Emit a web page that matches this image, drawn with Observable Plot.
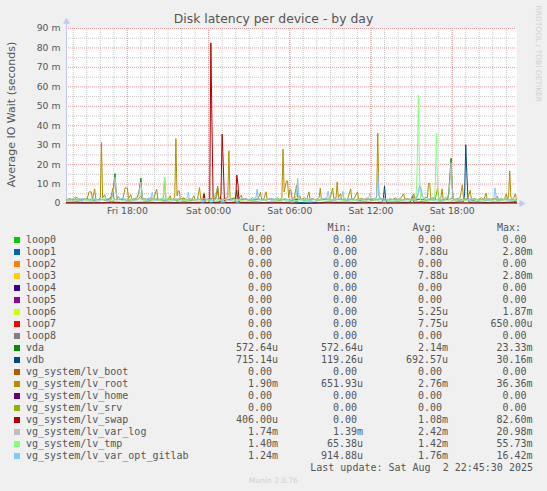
<!DOCTYPE html>
<html><head><meta charset="utf-8">
<script src="https://cdn.jsdelivr.net/npm/d3@7"></script>
<script src="https://cdn.jsdelivr.net/npm/@observablehq/plot@0.6"></script>
<style>
html,body{margin:0;padding:0;background:#f0f0f0;}
#root{position:relative;width:547px;height:491px;background:#f0f0f0;overflow:hidden;font-family:"DejaVu Sans",sans-serif;color:#555;}
#chart{position:absolute;left:0;top:0;}
.abs{position:absolute;white-space:pre;line-height:1;}
.mono{font-family:"DejaVu Sans Mono",monospace;font-size:10px;color:#555;}
</style></head><body><div id="root"><div id="chart"></div></div>
<script>
// ---- data: [5-minute step index from Fri 13:30, value in milliseconds] ----
const loop0 = [[0,0],[399,0]];
const loop1 = [[0,0],[203,0],[204,2.8],[205,0],[399,0]];
const loop2 = [[0,0],[399,0]];
const loop3 = [[0,0],[203,0],[204,2.8],[205,0],[399,0]];
const loop4 = [[0,0],[399,0]];
const loop5 = [[0,0],[399,0]];
const loop6 = [[0,0],[97,0],[98,1.87],[99,0],[399,0]];
const loop7 = [[0,0],[121,0],[122,0.65],[123,0],[399,0]];
const loop8 = [[0,0],[399,0]];
const vda = [[0,1.8],[6,2.2],[12,1.5],[18,2.4],[24,1.7],[30,2.2],[36,1.6],[41,4],[42,10],[43,15.4],[44,6],[45,2],[50,2.2],[56,1.6],[62,2.4],[64,5],[65,9],[66,13],[67,4],[68,2],[74,1.7],[80,2.3],[86,1.6],[92,2.2],[98,1.7],[104,2.4],[110,1.6],[116,2.2],[122,1.7],[128,2.3],[133,3],[134,8.8],[135,2.5],[140,1.7],[146,2.2],[150,3],[151,7],[152,2],[158,2.3],[164,1.6],[170,2.2],[176,1.7],[182,2.4],[188,1.6],[194,2.2],[200,1.7],[206,2.3],[212,1.6],[218,2.2],[224,1.7],[230,2.4],[236,1.6],[242,2.2],[248,1.7],[254,2.3],[260,1.6],[266,2.2],[272,1.7],[278,2.4],[284,1.6],[290,2.2],[296,1.7],[302,2.3],[308,1.6],[314,2.2],[320,1.7],[326,2.3],[332,1.6],[338,2.2],[339,6],[340,15],[341,23.3],[342,9],[343,2],[348,1.7],[354,2.3],[360,1.6],[366,2.2],[372,1.7],[378,2.3],[384,1.6],[390,2.2],[396,1.7],[399,0.57]];
const vdb = [[0,0.6],[8,0.8],[16,0.5],[24,0.7],[32,0.4],[40,0.8],[48,0.5],[56,0.7],[64,0.5],[72,0.8],[80,0.4],[88,0.7],[96,0.5],[104,0.8],[112,0.5],[120,0.7],[128,0.4],[136,0.8],[144,0.5],[152,0.7],[160,0.5],[168,0.8],[176,0.4],[184,0.7],[192,0.5],[200,0.8],[208,0.5],[216,0.7],[224,0.4],[232,0.8],[240,0.5],[248,0.7],[256,0.5],[264,0.8],[272,0.4],[280,0.7],[281,3],[282,9.1],[283,2],[284,0.6],[292,0.8],[300,0.5],[305,0.7],[306,2],[307,4],[308,0.6],[316,0.8],[324,0.5],[332,0.7],[340,0.4],[348,0.8],[352,1],[353,5],[354,30.16],[355,15],[356,2],[357,0.6],[364,0.8],[372,0.5],[380,0.7],[388,0.5],[396,0.8],[399,0.72]];
const lvBoot = [[0,0],[399,0]];
const lvRoot = [[0,2.0],[3,2.6],[6,1.6],[9,3.2],[12,1.8],[15,2.4],[18,1.7],[20,6.0],[22,6.0],[23,2.0],[25,7.5],[26,2.2],[28,1.8],[30,3],[31,31.4],[32,3],[34,4.5],[35,2],[37,2.5],[39,2],[41,7.9],[42,2.6],[44,1.8],[46,3.5],[48,2],[50,2.5],[52,8],[54,8],[55,2.5],[57,4.5],[58,2],[61,2.8],[63,1.8],[66,4],[67,2],[70,2.5],[72,1.7],[75,3],[77,2],[80,7.4],[81,2.4],[83,1.8],[86,3],[87,13.5],[88,3],[90,2],[92,4],[93,1.8],[96,3],[97,33.4],[98,4],[99,6.5],[100,6.5],[101,2],[104,3],[106,1.8],[109,2.5],[111,2],[113,4],[114,1.8],[116,2.2],[118,8.2],[119,2],[121,3],[122,5.5],[123,1.8],[126,2.4],[128,2],[131,3],[132,2],[134,8.6],[135,2.4],[137,3],[138,1.8],[140,2.5],[143,3],[144,27.1],[145,3],[147,2],[150,2.5],[152,1.8],[155,4.3],[156,2],[159,2.6],[162,1.8],[165,3],[167,2],[170,2.5],[172,5.8],[173,2],[175,2.4],[177,6],[178,2],[181,2.6],[184,1.8],[187,3],[189,2],[191,3],[192,28],[193,6],[195,11.7],[196,11.5],[197,3],[198,7],[199,7],[200,2.5],[202,3],[204,9.5],[205,3],[207,4],[208,2],[211,3],[213,2],[215,6],[216,2],[218,2.5],[221,1.8],[224,3],[225,7.8],[226,2],[229,2.5],[231,1.8],[234,3],[236,8],[237,2.5],[239,3],[240,11.1],[241,3],[243,5],[244,2],[247,2.5],[249,1.8],[252,7.5],[253,2],[255,2.5],[258,6],[259,2],[262,2.8],[264,1.8],[267,2.5],[270,2],[273,2.4],[275,3],[276,36.2],[277,4],[279,2],[282,3],[284,1.8],[287,2.4],[289,2],[292,3],[293,1.8],[296,2.5],[299,5],[300,2],[303,2.4],[305,1.8],[308,5],[309,2],[312,2.4],[315,1.8],[318,3],[320,3],[321,10.4],[322,10.4],[323,2.5],[325,3],[327,2],[329,8.2],[330,2.5],[332,3],[333,7.5],[334,2],[337,2.5],[339,1.8],[342,3],[344,2],[347,2.5],[349,3],[351,9.6],[352,3],[354,2],[356,3],[358,6.8],[359,2],[362,2.6],[365,1.8],[368,3],[370,2],[372,5.3],[373,2],[375,2.5],[377,1.8],[380,2.4],[382,3.8],[383,2],[386,2.5],[388,1.8],[390,5],[391,2],[392,3],[393,16.8],[394,3],[396,2],[398,5],[399,1.9]];
const lvHome = [[0,0],[399,0]];
const lvSrv = [[0,0],[399,0]];
const lvSwap = [[0,0.4],[20,0.3],[40,0.45],[60,0.3],[80,0.4],[100,0.3],[118,0.4],[121,1],[122,4.8],[123,0.5],[126,0.4],[127,2],[128,82.6],[129,40],[130,3],[131,0.4],[136,0.4],[137,5],[138,35.7],[139,20],[140,2],[141,0.4],[149,0.5],[150,2],[151,14.6],[152,10],[153,1],[154,0.4],[170,0.3],[190,0.4],[210,0],[230,0.4],[250,0.3],[270,0.4],[290,0.3],[310,0.4],[330,0.3],[350,0.4],[370,0.3],[390,0.4],[399,0.41]];
const lvVarLog = [[0,2.2],[6,1.8],[12,2.5],[18,1.9],[24,2.4],[30,1.8],[36,2.6],[40,2],[42,8],[43,13.5],[44,6],[45,2],[50,2.4],[56,1.8],[62,2.5],[64,4],[65,8],[66,11],[67,4],[68,2],[74,2.4],[80,1.8],[86,2.6],[92,1.9],[98,2.5],[104,1.8],[110,2.4],[116,1.9],[122,2.5],[128,1.8],[131,3],[132,5.5],[133,2.5],[138,1.9],[144,2.4],[150,1.8],[156,2.6],[162,1.9],[168,2.4],[174,1.8],[180,2.5],[186,1.9],[192,2.4],[198,1.8],[204,2.6],[210,1.9],[216,2.4],[222,1.8],[228,2.5],[234,1.9],[240,2.4],[246,1.8],[252,2.5],[258,1.9],[264,2.4],[268,3],[269,5.3],[270,2.5],[276,2],[282,2.4],[288,1.8],[294,2.5],[300,1.9],[306,2.4],[311,3],[313,7],[314,9],[315,4],[317,2],[322,2.4],[328,1.8],[334,2.5],[339,4],[340,12],[341,21],[342,8],[343,2.2],[348,2.4],[354,1.8],[360,2.5],[366,1.9],[372,2.4],[378,1.8],[384,2.5],[390,1.9],[396,2.4],[399,1.74]];
const lvTmp = [[0,1.4],[5,1.1],[10,1.7],[15,1.2],[20,1.6],[25,1.0],[30,1.5],[34,3.5],[35,1.2],[40,1.6],[45,1.1],[50,1.5],[55,1.2],[60,1.7],[65,1.0],[70,1.5],[75,1.2],[80,1.6],[85,1.3],[86,5],[87,13.5],[88,4],[89,1.2],[95,1.5],[100,1.1],[105,1.6],[110,1.2],[115,1.5],[120,1.0],[125,1.4],[130,1.2],[135,1.7],[140,1.1],[145,1.5],[150,1.2],[155,1.6],[160,1.1],[165,1.5],[170,1.2],[175,1.6],[180,1.0],[185,1.5],[190,1.2],[195,1.6],[200,1.1],[205,1.5],[210,1.2],[215,1.7],[220,1.0],[225,1.5],[230,1.2],[235,1.6],[240,1.1],[245,1.5],[250,1.2],[255,1.6],[260,1.1],[265,1.5],[270,1.2],[275,1.6],[280,1.0],[285,1.5],[290,1.2],[295,1.6],[300,1.1],[305,1.5],[309,1.3],[310,4],[311,20],[312,55.7],[313,15],[314,1.6],[318,1.2],[322,1.6],[326,1.4],[327,10],[328,36],[329,8],[330,1.3],[335,1.6],[340,1.1],[345,1.5],[350,1.2],[355,1.6],[360,1.1],[365,1.5],[370,1.2],[375,1.6],[380,1.1],[385,1.5],[390,1.2],[395,1.6],[399,1.4]];
const lvGitlab = [[0,2.2],[4,1.6],[8,3.5],[9,2],[13,1.5],[17,2.3],[21,1.6],[25,2.6],[29,1.7],[33,2.2],[37,1.5],[41,2.4],[45,1.8],[49,2.8],[53,1.6],[57,2.2],[61,1.7],[65,2.5],[69,1.8],[72,2.4],[75,3],[76,5.7],[77,2.5],[80,1.6],[84,2.3],[88,1.5],[92,2.2],[96,1.7],[100,2.4],[104,1.8],[107,3],[108,5.8],[109,2.2],[113,1.6],[117,2.4],[121,1.5],[125,2.2],[129,1.6],[133,2.5],[137,1.7],[141,2.3],[145,1.5],[149,2.2],[153,1.8],[157,2.5],[161,1.6],[165,2.4],[168,3],[169,7.5],[170,2.5],[174,1.7],[178,2.3],[182,1.6],[186,2.5],[190,1.8],[194,2.4],[198,1.7],[202,2.5],[204,4],[205,13],[206,4],[208,1.8],[212,2.4],[216,1.6],[220,2.3],[224,1.7],[228,2.4],[231,3],[232,6.3],[233,2.4],[237,1.6],[241,2.2],[244,3],[245,6.3],[246,2.3],[250,1.7],[254,2.4],[258,1.6],[262,2.3],[266,1.8],[270,2.5],[274,1.8],[275,4],[276,16.4],[277,4],[279,2],[283,1.6],[287,2.4],[291,1.7],[295,2.2],[299,1.6],[303,2.4],[307,1.8],[310,2.5],[312,6],[313,9.3],[314,8],[316,3],[318,1.8],[322,2.4],[326,1.6],[330,2.3],[334,1.7],[338,2.4],[342,1.6],[346,2.3],[350,1.7],[354,2.4],[358,1.6],[362,2.2],[366,1.8],[370,2.5],[374,1.6],[378,2.4],[379,3],[380,8.1],[381,2.6],[384,1.7],[388,2.3],[392,1.6],[396,2.2],[399,1.24]];

const seriesNames = ["loop0","loop1","loop2","loop3","loop4","loop5","loop6","loop7","loop8","vda","vdb","vg_system/lv_boot","vg_system/lv_root","vg_system/lv_home","vg_system/lv_srv","vg_system/lv_swap","vg_system/lv_var_log","vg_system/lv_tmp","vg_system/lv_var_opt_gitlab"];
const seriesColors = ["#00CC00","#0066B3","#FF8000","#FFCC00","#330099","#990099","#CCFF00","#FF0000","#808080","#008F00","#00487D","#B35A00","#B38F00","#6B006B","#8FB300","#B30000","#BEBEBE","#80FF80","#80C9FF"];
const seriesData = [loop0,loop1,loop2,loop3,loop4,loop5,loop6,loop7,loop8,vda,vdb,lvBoot,lvRoot,lvHome,lvSrv,lvSwap,lvVarLog,lvTmp,lvGitlab];
const curVals = ["0.00","0.00","0.00","0.00","0.00","0.00","0.00","0.00","0.00","572.64u","715.14u","0.00","1.90m","0.00","0.00","406.00u","1.74m","1.40m","1.24m"];
const minVals = ["0.00","0.00","0.00","0.00","0.00","0.00","0.00","0.00","0.00","572.64u","119.26u","0.00","651.93u","0.00","0.00","0.00","1.39m","65.38u","914.88u"];
const avgVals = ["0.00","7.88u","0.00","7.88u","0.00","0.00","5.25u","7.75u","0.00","2.14m","692.57u","0.00","2.76m","0.00","0.00","1.08m","2.42m","1.42m","1.76m"];
const maxVals = ["0.00","2.80m","0.00","2.80m","0.00","0.00","1.87m","650.00u","0.00","23.33m","30.16m","0.00","36.36m","0.00","0.00","82.60m","20.98m","55.73m","16.42m"];
const yTicks = [0,10,20,30,40,50,60,70,80,90];
const yMinor = [5,15,25,35,45,55,65,75,85];
const titleText = "Disk latency per device - by day";
const yLabel = "Average IO Wait (seconds)";
const lastUpdate = "Last update: Sat Aug  2 22:45:30 2025";

// ---- chart ----
const start = new Date(2025, 7, 1, 13, 30);
const T = i => new Date(start.getTime() + i * 300000);
const xEnd = T(399);
const hourTicks = d3.timeHour.range(start, xEnd);
const majorTicks = d3.timeHour.every(6).range(start, xEnd);
const axisColor = "#c4c8f0";

const lineMarks = seriesData.map((d, k) =>
  Plot.line(d.map(([i, v]) => ({t: T(i), v})), {x: "t", y: "v", stroke: seriesColors[k], strokeWidth: 1})
);

const chart = Plot.plot({
  width: 547, height: 218,
  marginLeft: 66, marginRight: 31, marginTop: 28, marginBottom: 15,
  style: {fontFamily: "DejaVu Sans", fontSize: "9.3px", color: "#555", background: "transparent", overflow: "visible"},
  x: {type: "time", domain: [start, xEnd], ticks: majorTicks, tickFormat: d3.timeFormat("%a %H:%M"), tickSize: 0, tickPadding: 4, label: null},
  y: {domain: [0, 90], ticks: yTicks, tickFormat: d => d === 0 ? "0" : d + " m", tickSize: 0, tickPadding: 6, label: null},
  marks: [
    Plot.frame({fill: "white", stroke: "none"}),
    Plot.ruleY(yMinor, {stroke: "#c8c8c8", strokeDasharray: "1,1"}),
    Plot.ruleX(hourTicks, {stroke: "#c8c8c8", strokeDasharray: "1,1"}),
    Plot.ruleY(yTicks.slice(1), {stroke: "#ec9a9a", strokeDasharray: "1,1"}),
    Plot.ruleX(majorTicks, {stroke: "#ec9a9a", strokeDasharray: "1,1"}),
    Plot.link([{x1: T(-3), x2: T(403.5)}], {x1: "x1", x2: "x2", y1: 0, y2: 0, stroke: axisColor}),
    Plot.link([{x: start}], {x1: "x", x2: "x", y1: 0, y2: 93.5, stroke: axisColor}),
    Plot.dot([{x: T(403.5), y: 0}], {x: "x", y: "y", symbol: "triangle", r: 2.6, fill: axisColor, stroke: "none", rotate: 90}),
    Plot.dot([{x: start, y: 93.5}], {x: "x", y: "y", symbol: "triangle", r: 2.6, fill: axisColor, stroke: "none"}),
    ...lineMarks
  ]
});
document.getElementById("chart").appendChild(chart);

// ---- text & legend ----
const root = document.getElementById("root");
function addDiv(text, css, cls) {
  const d = document.createElement("div");
  d.className = "abs " + (cls || "");
  d.textContent = text;
  Object.assign(d.style, css);
  root.appendChild(d);
  return d;
}
addDiv(titleText, {left: "0px", width: "547px", textAlign: "center", top: "13.3px", fontSize: "12.4px", color: "#555"});
addDiv(yLabel, {left: (10.7 - 100) + "px", top: (114 - 5.5) + "px", width: "200px", textAlign: "center", fontSize: "11px", color: "#555", transform: "rotate(-90deg)"});
addDiv("RRDTOOL / TOBI OETIKER", {left: (537.5 - 60) + "px", top: (53.5 - 3.75) + "px", width: "120px", textAlign: "center", fontSize: "7.5px", color: "#cfcfcf", transform: "rotate(90deg)"});

const rowBase0 = 243, rowStep = 12.04;
const colEdges = [272, 357, 442, 526.5];
const headers = ["Cur:", "Min:", "Avg:", "Max:"];
headers.forEach((h, c) => addDiv(h, {right: (547 - colEdges[c] + 5.5) + "px", top: (rowBase0 - rowStep - 8.46) + "px"}, "mono"));
const cols = [curVals, minVals, avgVals, maxVals];
seriesNames.forEach((name, k) => {
  const base = rowBase0 + k * rowStep;
  const sw = document.createElement("div");
  Object.assign(sw.style, {position: "absolute", left: "14px", top: (base - 6.3) + "px", width: "6px", height: "6px", background: seriesColors[k]});
  root.appendChild(sw);
  addDiv(name, {left: "26px", top: (base - 8.46) + "px"}, "mono");
  cols.forEach((arr, c) => {
    const m = arr[k].match(/^([\d.]+)(\D?)$/);
    addDiv(m[1], {right: (547 - colEdges[c]) + "px", top: (base - 8.46) + "px"}, "mono");
    if (m[2]) addDiv(m[2], {left: colEdges[c] + "px", top: (base - 8.46) + "px"}, "mono");
  });
});
addDiv(lastUpdate, {right: (547 - 533) + "px", top: (rowBase0 + 19 * rowStep - 8.46) + "px"}, "mono");
addDiv("Munin 2.0.76", {left: "0px", width: "547px", textAlign: "center", top: "476.7px", fontSize: "7.5px", color: "#cfcfcf"});
</script></body></html>
